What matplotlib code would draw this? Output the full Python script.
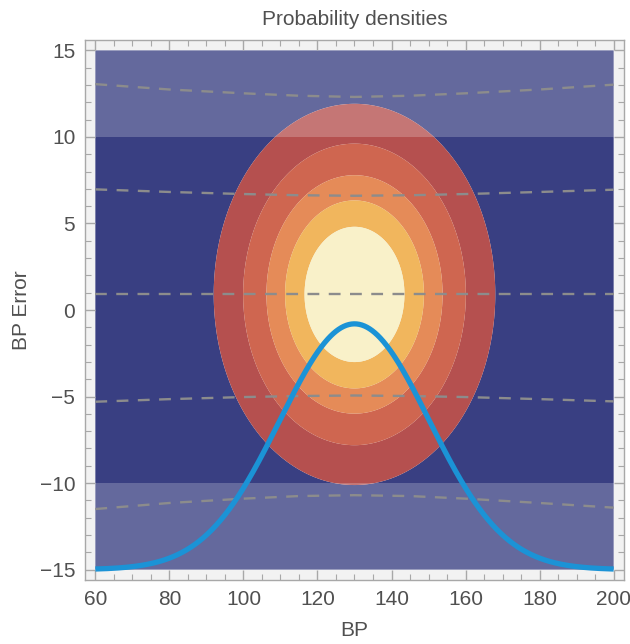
import numpy as np
import matplotlib.pyplot as plt
from matplotlib.ticker import MultipleLocator

plt.rcParams['font.family'] = ['Liberation Sans', 'DejaVu Sans']

# joint density of BP and BP error
bp_mean, bp_sd = 130.0, 20.2
err_mean, err_sd = 0.9, 5.85
# contour levels as fractions of the peak density
levels_frac = [0.17, 0.33, 0.50, 0.65, 0.80]
fill_colors = ['#393f82', '#b5504f', '#cf6650', '#e58b58', '#f1b65d', '#f9f1c9']

# BP density curve drawn on the -15 baseline
curve_base, curve_peak = -15.0, 14.2

# dashed lines (BP positions and error values)
dash_x = [60, 80, 100, 115, 130, 145, 160, 180, 200]
dash_top = [13.05, 12.74, 12.52, 12.38, 12.31, 12.38, 12.52, 12.74, 13.02]
dash_upper = [6.97, 6.82, 6.70, 6.63, 6.60, 6.63, 6.70, 6.82, 6.95]
dash_mid = [0.9, 0.9, 0.9, 0.9, 0.9, 0.9, 0.9, 0.9, 0.9]
dash_lower = [-5.30, -5.15, -5.03, -4.97, -4.94, -4.97, -5.03, -5.15, -5.28]
dash_bottom = [-11.50, -11.15, -10.90, -10.75, -10.70, -10.75, -10.90, -11.15, -11.42]

#shaded bands
bands = [(10, 15), (-15, -10)]

xmin, xmax = 60, 200
ymin, ymax = -15, 15

fig = plt.figure(figsize=(6.3, 6.44), dpi=100)
ax = fig.add_axes([85/630, 1-580/644, (624-85)/630, (580-40)/644])
ax.set_facecolor('#f2f2f2')

bp = np.linspace(xmin, xmax, 600)
err = np.linspace(ymin, ymax, 600)
X, Y = np.meshgrid(bp, err)
Z = np.exp(-0.5*((X-bp_mean)/bp_sd)**2 - 0.5*((Y-err_mean)/err_sd)**2)
ax.contourf(X, Y, Z, levels=[0] + levels_frac + [1.01], colors=fill_colors, antialiased=True)

for yy in [dash_top, dash_upper, dash_mid, dash_lower, dash_bottom]:
	ax.plot(dash_x, yy, color='#8c8c8c', lw=1.7, dashes=(5, 4))

for lo, hi in bands:
	ax.fill_between([xmin, xmax], lo, hi, color='white', alpha=0.22, lw=0)

curve = curve_base + curve_peak*np.exp(-0.5*((bp-bp_mean)/bp_sd)**2)
ax.plot(bp, curve, color='#1b93d6', lw=3.8, solid_capstyle='butt')

ax.set_xlim(xmin-0.02*(xmax-xmin), xmax+0.02*(xmax-xmin))
ax.set_ylim(ymin-0.02*(ymax-ymin), ymax+0.02*(ymax-ymin))

ax.xaxis.set_major_locator(MultipleLocator(20))
ax.xaxis.set_minor_locator(MultipleLocator(5))
ax.yaxis.set_major_locator(MultipleLocator(5))
ax.yaxis.set_minor_locator(MultipleLocator(1))
ax.set_xticks(np.arange(60, 201, 20))
ax.set_yticks(np.arange(-15, 16, 5))
ax.set_yticklabels([str(v).replace('-', '\u2212') for v in range(-15, 16, 5)])

for s in ax.spines.values():
	s.set_color('#a8a8a8')
	s.set_linewidth(1.0)
ax.tick_params(which='both', direction='in', top=True, right=True, colors='#a8a8a8',
	labelcolor='#505050', labelsize=15, pad=7)
ax.tick_params(which='major', length=7, width=1)
ax.tick_params(which='minor', length=4, width=0.8)

ax.set_xlabel('BP', fontsize=15, color='#505050', labelpad=9)
ax.set_ylabel('BP Error', fontsize=15, color='#505050', labelpad=6)
ax.set_title('Probability densities', fontsize=15, color='#505050', pad=11)

fig.savefig('out.png', dpi=100)
